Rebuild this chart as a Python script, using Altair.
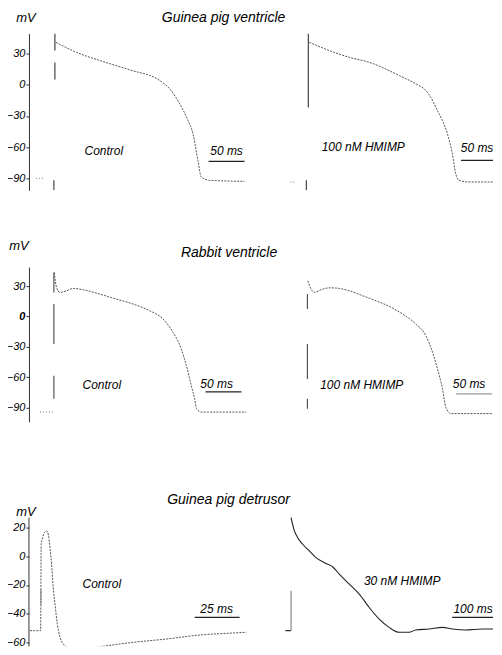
import altair as alt
import pandas as pd

FONT = "Liberation Sans"

# ---------------- Row 1: Guinea pig ventricle ----------------
gpv_ctrl_t = [1.4, 30.1, 62.5, 104.2, 145.8, 159.7, 173.6, 185.2, 192.1, 199.0, 203.7, 215.3, 263.9]
gpv_ctrl_v = [40.8, 31.2, 23.3, 14.3, 4.1, -3.9, -18.3, -34.3, -47.1, -72.7, -88.7, -91.9, -92.9]
gpv_ctrl_pre_t = [-26.4, -13.9]
gpv_ctrl_pre_v = [-90.0, -90.0]
gpv_ctrl_stim_t = [0.0, 0.0, -1.4]
gpv_ctrl_stim_v0 = [49.2, 21.4, -91.9]
gpv_ctrl_stim_v1 = [32.9, 5.0, -101.5]

gpv_drug_t = [1.4, 29.2, 56.9, 84.7, 126.4, 149.6, 163.5, 170.4, 177.4, 186.5, 193.5, 200.4, 205.1, 209.7, 223.6, 267.6]
gpv_drug_v = [40.8, 32.9, 26.4, 21.6, 8.9, 0.9, -5.5, -12.0, -21.6, -34.3, -47.1, -66.3, -85.5, -91.9, -93.5, -93.5]
gpv_drug_pre_t = [-25.0, -18.1]
gpv_drug_pre_v = [-93.5, -93.5]
gpv_drug_stim_t = [0.0, -2.8]
gpv_drug_stim_v0 = [49.2, -91.9]
gpv_drug_stim_v1 = [-21.8, -101.5]

# ---------------- Row 2: Rabbit ventricle ----------------
rab_ctrl_t = [0.5, 3.7, 8.3, 17.6, 26.8, 40.7, 63.9, 87.0, 110.2, 133.3, 151.9, 165.7, 177.3, 184.3, 191.2, 195.8, 198.6, 205.6, 267.6]
rab_ctrl_v = [43.5, 28.7, 23.8, 25.4, 27.7, 26.4, 22.1, 17.2, 12.3, 5.7, -2.5, -15.5, -32.0, -48.4, -68.1, -81.1, -91.0, -94.2, -94.2]
rab_ctrl_pre_t = [-19.4, -1.4]
rab_ctrl_pre_v = [-94.2, -94.2]
rab_ctrl_stim_t = [0.0, 0.0, 0.0]
rab_ctrl_stim_v0 = [43.5, 12.3, -58.5]
rab_ctrl_stim_v1 = [23.8, -27.0, -81.1]

rab_drug_t = [0.5, 5.1, 9.7, 19.0, 30.6, 44.4, 58.3, 76.9, 95.4, 113.9, 132.4, 150.9, 164.8, 174.1, 181.0, 188.0, 192.6, 199.6, 269.0]
rab_drug_v = [35.2, 27.0, 23.8, 26.4, 28.3, 27.7, 25.4, 20.5, 15.5, 10.0, 2.5, -7.4, -18.9, -35.2, -51.6, -71.3, -89.3, -95.7, -95.7]
rab_drug_stim_t = [0.0, 0.0, 0.0]
rab_drug_stim_v0 = [22.1, -27.0, -81.1]
rab_drug_stim_v1 = [7.4, -61.5, -90.9]

# ---------------- Row 3: Guinea pig detrusor ----------------
det_ctrl_t = [-6.1, -0.2, 0.1, 0.9, 1.9, 3.2, 4.2, 5.0, 5.9, 6.8, 7.8, 9.1, 10.6, 13.3, 16.1, 21.7, 32.8, 51.3, 69.8, 88.3, 106.8, 114.3]
det_ctrl_v = [-51.9, -51.9, 8.2, 13.0, 16.5, 17.7, 14.4, 6.1, -5.5, -21.7, -33.4, -47.3, -56.5, -62.3, -64.0, -64.7, -63.0, -60.0, -57.7, -54.9, -53.5, -53.0]
det_ctrl_stim_t = [0.0]
det_ctrl_stim_v0 = [-23.1]
det_ctrl_stim_v1 = [-33.6]

det_drug_t = [-0.7, 6.7, 14.1, 25.2, 40.0, 54.8, 77.0, 91.8, 106.7, 128.9, 151.1, 173.3, 195.6, 217.8, 240.0, 262.2, 277.0, 306.7, 336.3, 358.5, 388.1, 425.2, 466.0]
det_drug_v = [27.0, 17.7, 13.0, 8.4, 3.8, -0.9, -5.0, -7.3, -12.5, -19.4, -26.4, -35.7, -43.8, -49.6, -53.0, -53.0, -51.4, -50.7, -49.6, -50.7, -51.4, -50.7, -50.7]
det_drug_stim_t = [-0.7]
det_drug_stim_v0 = [-24.0]
det_drug_stim_v1 = [-51.9]
det_drug_foot_t = [-13.3, -0.7]
det_drug_foot_v = [-51.9, -51.9]

# scale bars: start (ms), length (ms), level (mV)
bar_start = [213.9, 212.5, 211.0, 206.9, 85.6, 358.0]
bar_len = [50, 50, 50, 50, 25, 100]
bar_level = [-73.7, -72.7, -74.3, -76.2, -42.6, -42.6]

vent_ticks = [30, 0, -30, -60, -90]
det_ticks = [20, 0, -20, -40, -60]


def yaxis(vals, bold0=False, domain=True):
    kw = dict(values=vals, title=None, grid=False, labelFont=FONT, labelFontStyle="italic",
              labelFontSize=11, labelColor="black", tickSize=3, tickColor="#333",
              domainColor="#333", domainWidth=1, tickWidth=1, labelPadding=1,
              labelOverlap=False, labelBound=False, labelFlush=False, domain=domain)
    if bold0:
        kw["labelFontWeight"] = {"condition": {"test": "datum.value === 0", "value": "bold"},
                                 "value": "normal"}
    return alt.Axis(**kw)


def label(txt, px, py, size=12):
    return alt.Chart(alt.Data(values=[{"a": 1}])).mark_text(
        text=txt, font=FONT, fontSize=size, fontStyle="italic", align="center",
        baseline="middle", color="black").encode(x=alt.value(px), y=alt.value(py))


def panel(xdom, ydom, w, h, axis, traces, stims, bar_idx, labels, bar_color="#222", extra=None):
    xs = alt.Scale(domain=xdom, nice=False, zero=False)
    ys = alt.Scale(domain=ydom, nice=False, zero=False)
    layers = []
    for (t, v, color, dash, sw) in traces:
        df = pd.DataFrame({"t": t, "v": v, "i": list(range(len(t)))})
        mk = dict(color=color, strokeWidth=sw, interpolate="monotone", clip=True)
        if dash:
            mk["strokeDash"] = dash
        layers.append(alt.Chart(df).mark_line(**mk).encode(
            x=alt.X("t:Q", scale=xs, axis=None),
            y=alt.Y("v:Q", scale=ys, axis=axis),
            order="i:Q"))
    for (t, v0, v1, color) in stims:
        df = pd.DataFrame({"t": t, "v": v0, "v1": v1})
        layers.append(alt.Chart(df).mark_rule(color=color, strokeWidth=1.2, clip=True).encode(
            x=alt.X("t:Q", scale=xs, axis=None),
            y=alt.Y("v:Q", scale=ys, axis=axis),
            y2="v1:Q"))
    bdf = pd.DataFrame({"t": [bar_start[bar_idx]],
                        "t1": [bar_start[bar_idx] + bar_len[bar_idx]],
                        "v": [bar_level[bar_idx]]})
    layers.append(alt.Chart(bdf).mark_rule(color=bar_color, strokeWidth=1.3, clip=True).encode(
        x=alt.X("t:Q", scale=xs, axis=None), x2="t1:Q",
        y=alt.Y("v:Q", scale=ys, axis=axis)))
    for (txt, px, py, size) in labels:
        layers.append(label(txt, px, py, size))
    if extra is not None:
        layers.append(extra)
    return alt.layer(*layers).properties(width=w, height=h)


DOT = [2, 1.2]
GREY = "#555"
RW = 244  # right panel width (kept inside the window)

# Row 1
r1_left = panel([-36.1, 270.8], [-101.5, 49.2], 221, 157, yaxis(vent_ticks),
                [(gpv_ctrl_t, gpv_ctrl_v, GREY, DOT, 1.0),
                 (gpv_ctrl_pre_t, gpv_ctrl_pre_v, "#777", [1, 2], 1.0)],
                [(gpv_ctrl_stim_t, gpv_ctrl_stim_v0, gpv_ctrl_stim_v1, "#444")],
                0,
                [("mV", -3, -16, 13), ("Guinea pig ventricle", 195, -16, 14),
                 ("Control", 75, 118, 12), ("50 ms", 198, 118, 12)])
r1_right = panel([-81.9, 257.0], [-101.5, 49.2], RW, 157, None,
                 [(gpv_drug_t, gpv_drug_v, GREY, DOT, 1.0),
                  (gpv_drug_pre_t, gpv_drug_pre_v, "#777", [1, 2], 1.0)],
                 [(gpv_drug_stim_t, gpv_drug_stim_v0, gpv_drug_stim_v1, "#444")],
                 1,
                 [("100 nM HMIMP", 114, 114, 12), ("50 ms", 228, 115, 12)])

# Row 2
r2_left = panel([-34.7, 272.2], [-103.8, 48.7], 221, 155, yaxis(vent_ticks, bold0=True),
                [(rab_ctrl_t, rab_ctrl_v, GREY, DOT, 1.0),
                 (rab_ctrl_pre_t, rab_ctrl_pre_v, "#777", [1, 2], 1.0)],
                [(rab_ctrl_stim_t, rab_ctrl_stim_v0, rab_ctrl_stim_v1, "#555")],
                2,
                [("mV", -10, -21, 13), ("Rabbit ventricle", 200.5, -14, 14),
                 ("Control", 73, 118, 12), ("50 ms", 188, 117, 12)])
r2_right = panel([-80.6, 258.3], [-103.8, 48.7], RW, 155, None,
                 [(rab_drug_t, rab_drug_v, GREY, DOT, 1.0)],
                 [(rab_drug_stim_t, rab_drug_stim_v0, rab_drug_stim_v1, "#555")],
                 3,
                 [("100 nM HMIMP", 112.5, 118, 12), ("50 ms", 220, 117, 12)],
                 bar_color="#999")

# Row 3 (panel extended 19 px upward; its axis line is drawn as a rule)
R3H = 148
r3_axis_line = alt.Chart(alt.Data(values=[{"a": 1}])).mark_rule(color="#333", strokeWidth=1).encode(
    x=alt.value(0), y=alt.value(19), y2=alt.value(R3H))
r3_left = panel([-6.7, 116.1], [-62.8, 40.2], 221, R3H, yaxis(det_ticks, domain=False),
                [(det_ctrl_t, det_ctrl_v, GREY, DOT, 1.0)],
                [(det_ctrl_stim_t, det_ctrl_stim_v0, det_ctrl_stim_v1, "#888")],
                4,
                [("mV", -3, 13, 13), ("Guinea pig detrusor", 200, 1, 14),
                 ("Control", 73, 86, 12), ("25 ms", 188, 111, 12)],
                extra=r3_axis_line)
r3_right = panel([-93.3, 449.0], [-62.8, 40.2], RW, R3H, None,
                 [(det_drug_t, det_drug_v, "#222", None, 1.1),
                  (det_drug_foot_t, det_drug_foot_v, "#333", None, 1.2)],
                 [(det_drug_stim_t, det_drug_stim_v0, det_drug_stim_v1, "#888")],
                 5,
                 [("30 nM HMIMP", 153, 83, 12), ("100 ms", 224, 111, 12)])

chart = alt.concat(r1_left, r1_right, r2_left, r2_right, r3_left, r3_right,
                   columns=2, spacing={"row": 77, "column": 0}, bounds="flush").properties(
    padding={"left": -2, "top": 2, "right": 0, "bottom": 0},
    background="white",
).configure_view(stroke=None)

chart.save("out.html", embed_options={"renderer": "svg", "actions": False})
